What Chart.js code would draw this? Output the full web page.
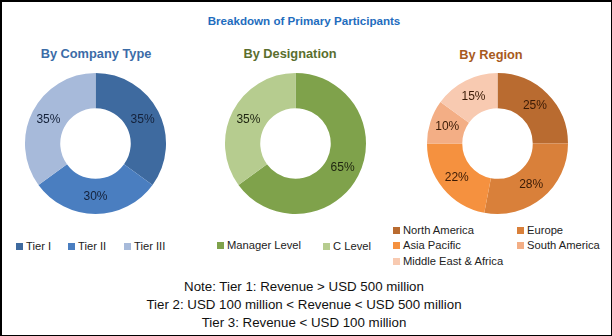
<!DOCTYPE html>
<html><head><meta charset="utf-8">
<script src="https://cdn.jsdelivr.net/npm/chart.js@4.4.1/dist/chart.umd.min.js"></script>
<style>
html,body{margin:0;padding:0;background:#fff;}
#wrap{position:relative;width:612px;height:336px;box-sizing:border-box;border:1px solid #000;border-width:2px 1px 1px 2px;font-family:"Liberation Sans",Arial,sans-serif;overflow:hidden;}
.t{position:absolute;white-space:nowrap;transform:translateX(-50%);}
canvas{position:absolute;}
.leg{position:absolute;font-size:11.2px;color:#222;white-space:nowrap;}
.leg span.sq{display:inline-block;width:7px;height:7px;margin-right:3px;vertical-align:0px;}
.note{position:absolute;left:302px;transform:translateX(-50%);font-size:13.3px;color:#111;white-space:nowrap;}
</style></head><body>
<div id="wrap">
<div class="t" style="left:302px;top:12px;font-size:11.6px;font-weight:bold;color:#1F6DBE;">Breakdown of Primary Participants</div>
<div class="t" style="left:94px;top:44px;font-size:12.8px;font-weight:bold;color:#3B6CA7;">By Company Type</div>
<div class="t" style="left:288px;top:44px;font-size:12.8px;font-weight:bold;color:#5A6E2E;">By Designation</div>
<div class="t" style="left:489px;top:45px;font-size:12.8px;font-weight:bold;color:#A85A20;">By Region</div>
<canvas id="c1" width="145" height="145" style="left:21px;top:69px;"></canvas>
<canvas id="c2" width="145" height="145" style="left:221px;top:69px;"></canvas>
<canvas id="c3" width="145" height="145" style="left:423px;top:69px;"></canvas>
<div id="l1"></div><div id="l2"></div><div id="l3"></div>
<div class="note" style="top:277px;">Note: Tier 1: Revenue &gt; USD 500 million</div>
<div class="note" style="top:295px;">Tier 2: USD 100 million &lt; Revenue &lt; USD 500 million</div>
<div class="note" style="top:313px;">Tier 3: Revenue &lt; USD 100 million</div>
</div>
<script>
const companyCategories = ["Tier I", "Tier II", "Tier III"];
const companyValues = [35, 30, 35];
const companyColors = ["#3E6A9F", "#4A7EC0", "#A7BADA"];

const designationCategories = ["Manager Level", "C Level"];
const designationValues = [65, 35];
const designationColors = ["#7FA24B", "#B6CC8F"];

const regionCategories = ["North America", "Europe", "Asia Pacific", "South America", "Middle East & Africa"];
const regionValues = [25, 28, 22, 10, 15];
const regionColors = ["#B96B30", "#D9803A", "#F5913F", "#F3AE85", "#F8CAB1"];

const labelPlugin = {
  id: 'pctLabels',
  afterDatasetsDraw(chart) {
    const ctx = chart.ctx;
    const meta = chart.getDatasetMeta(0);
    const data = chart.data.datasets[0].data;
    ctx.save();
    ctx.font = '12px "Liberation Sans", Arial, sans-serif';
    ctx.fillStyle = chart.options.plugins.pctLabels.color;
    ctx.textAlign = 'center';
    ctx.textBaseline = 'middle';
    meta.data.forEach((arc, i) => {
      const p = arc.tooltipPosition();
      ctx.fillText(data[i] + '%', p.x, p.y);
    });
    ctx.restore();
  }
};

function makeChart(id, cats, vals, cols, labelColor) {
  return new Chart(document.getElementById(id), {
    type: 'doughnut',
    data: { labels: cats, datasets: [{ data: vals, backgroundColor: cols, borderWidth: 0 }] },
    options: {
      responsive: false, animation: false, cutout: '50%',
      layout: { padding: 2 },
      plugins: { legend: { display: false }, tooltip: { enabled: false }, pctLabels: { color: labelColor } }
    },
    plugins: [labelPlugin]
  });
}
makeChart('c1', companyCategories, companyValues, companyColors, '#14213A');
makeChart('c2', designationCategories, designationValues, designationColors, '#1E2410');
makeChart('c3', regionCategories, regionValues, regionColors, '#3A1A05');

function legend(id, cats, cols, positions) {
  const el = document.getElementById(id);
  cats.forEach((c, i) => {
    const d = document.createElement('div');
    d.className = 'leg';
    d.style.left = positions[i][0] + 'px';
    d.style.top = positions[i][1] + 'px';
    d.innerHTML = '<span class="sq" style="background:' + cols[i] + '"></span>' + c.replace('&', '&amp;');
    el.appendChild(d);
  });
}
legend('l1', companyCategories, companyColors, [[14, 238], [66, 238], [122, 238]]);
legend('l2', designationCategories, designationColors, [[215, 237], [321, 238]]);
legend('l3', regionCategories, regionColors, [[391, 222], [515, 222], [391, 237], [515, 237], [391, 253]]);
</script>
</body></html>
